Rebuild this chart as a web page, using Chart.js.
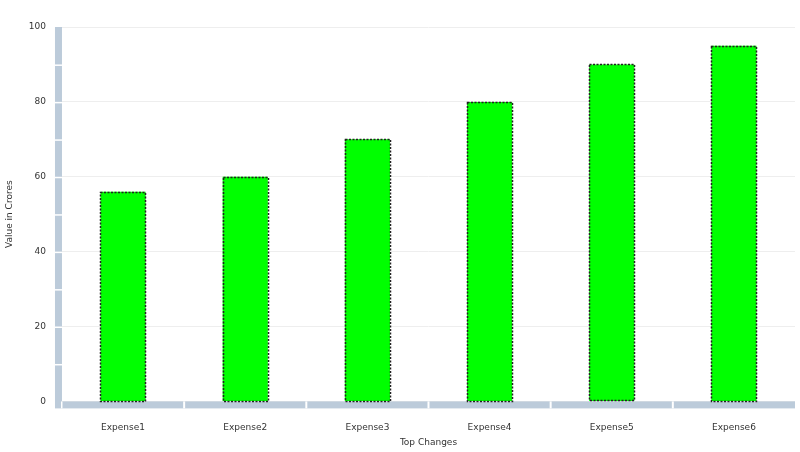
<!DOCTYPE html>
<html><head><script src="https://cdn.jsdelivr.net/npm/chart.js@4"></script>
<style>html,body{margin:0;padding:0;background:#fff}#w{width:800px;height:452px}</style></head>
<body><div id="w"><canvas id="c"></canvas></div>
<script>
const categories=["Expense1","Expense2","Expense3","Expense4","Expense5","Expense6"];
const values=[56,60,70,80,90,95];
const yTicks=[0,20,40,60,80,100];
const axisDeco={id:'axisDeco',
 beforeDatasetsDraw(ch){const {ctx,chartArea:a,scales:{x,y}}=ch;ctx.save();ctx.fillStyle='#bccbda';
  ctx.fillRect(a.left-7,a.top,7,a.bottom+7-a.top);
  ctx.fillRect(a.left,a.bottom,a.right-a.left,7);
  ctx.fillStyle='#fff';
  for(let v=10;v<100;v+=10){const py=y.getPixelForValue(v);ctx.fillRect(a.left-7,py,7,1.5);}
  ctx.fillRect(a.left-1,a.bottom,1.5,7);
  for(let i=1;i<categories.length;i++){const px=(x.getPixelForValue(i-1)+x.getPixelForValue(i))/2;ctx.fillRect(px-1,a.bottom,2,7);}
  ctx.restore();},
 afterDatasetsDraw(ch){const {ctx}=ch;ctx.save();ctx.strokeStyle='#222';ctx.lineWidth=1.5;ctx.setLineDash([2,1.5]);
  ch.getDatasetMeta(0).data.forEach(b=>{const l=b.x-b.width/2;ctx.strokeRect(Math.round(l)+0.5,Math.round(b.y)+0.5,Math.round(b.width),Math.round(b.base-b.y));});
  ctx.restore();}};
Chart.defaults.font.family='"DejaVu Sans", Verdana, sans-serif';
Chart.defaults.font.size=9;Chart.defaults.color='#333';
new Chart(document.getElementById('c'),{type:'bar',
 data:{labels:categories,datasets:[{data:values,backgroundColor:'#00ff00',borderWidth:0,barPercentage:0.37,categoryPercentage:1}]},
 options:{responsive:true,maintainAspectRatio:false,animation:false,
  layout:{padding:{left:0,right:5,top:27,bottom:4}},
  plugins:{legend:{display:false},tooltip:{enabled:false}},
  scales:{
   x:{grid:{display:false},border:{display:false},ticks:{padding:13,font:{size:9}},
      title:{display:true,text:'Top Changes',padding:{top:-9,bottom:0},font:{size:9}}},
   y:{min:0,max:100,afterBuildTicks(s){s.ticks=yTicks.map(v=>({value:v}));},
      grid:{color:'#eeeeee',drawTicks:true,tickLength:6,tickColor:'#999'},border:{display:false},
      ticks:{padding:10,font:{size:9}},
      title:{display:true,text:'Value in Crores',font:{size:9}}}}},
 plugins:[axisDeco]});
</script></body></html>
